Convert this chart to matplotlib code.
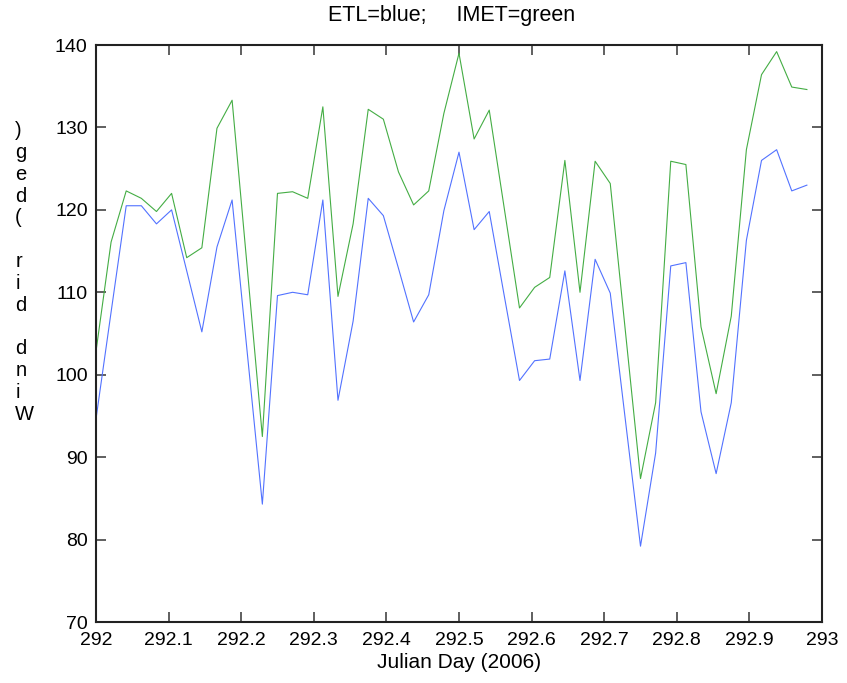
import numpy as np
import matplotlib
matplotlib.use("Agg")
import matplotlib.pyplot as plt

plt.rcParams['font.family'] = ['Liberation Sans', 'DejaVu Sans']

# half-hourly samples on Julian day 292
day0 = 292.0
n_samples = 48
etl = [94.6, 107.6, 120.5, 120.5, 118.3, 120.0, 112.6, 105.2, 115.5, 121.2,
       102.7, 84.3, 109.6, 110.0, 109.7, 121.2, 96.9, 106.5, 121.4, 119.3,
       112.9, 106.4, 109.7, 119.9, 127.0, 117.6, 119.8, 109.5, 99.3, 101.7,
       101.9, 112.6, 99.3, 114.0, 109.9, 94.5, 79.2, 90.5, 113.2, 113.6,
       95.5, 88.0, 96.6, 116.3, 126.0, 127.3, 122.3, 123.0]
imet = [102.8, 116.1, 122.3, 121.4, 119.8, 122.0, 114.2, 115.4, 129.9, 133.3,
        113.0, 92.5, 122.0, 122.2, 121.4, 132.5, 109.5, 118.3, 132.2, 131.0,
        124.6, 120.6, 122.3, 131.7, 139.0, 128.6, 132.1, 120.1, 108.1, 110.6,
        111.8, 126.0, 110.0, 125.9, 123.2, 105.3, 87.4, 96.6, 125.9, 125.5,
        105.8, 97.7, 107.1, 127.3, 136.4, 139.2, 134.9, 134.6]
xticks = [292, 292.1, 292.2, 292.3, 292.4, 292.5, 292.6, 292.7, 292.8, 292.9, 293]
xticklabels = ['292', '292.1', '292.2', '292.3', '292.4', '292.5',
               '292.6', '292.7', '292.8', '292.9', '293']
yticks = [70, 80, 90, 100, 110, 120, 130, 140]

jd = day0 + np.arange(n_samples) / n_samples

fig = plt.figure(figsize=(8.47, 6.83), dpi=100)
ax = fig.add_axes([0.1133, 0.0893, 0.8572, 0.8448])

ax.plot(jd, imet, color='#44ad44', lw=0.8)
ax.plot(jd, etl, color='#5272ff', lw=0.8)

ax.set_xlim(292, 293)
ax.set_ylim(70, 140)
ax.set_xticks(xticks)
ax.set_xticklabels(xticklabels)
ax.set_yticks(yticks)
ax.tick_params(direction='in', top=True, right=True, length=7, width=1.2,
               color='#444444', labelsize=14, pad=6)
ax.tick_params(axis='x', pad=7)
for s in ax.spines.values():
    s.set_linewidth(1.5)
    s.set_color('#222222')

ax.set_title("ETL=blue;     IMET=green", fontsize=15.5, pad=17, x=0.49)
ax.set_xlabel("Julian Day (2006)", fontsize=15, labelpad=3)

# MATLAB-style stacked y label
ylab = "\n".join(reversed("Wind dir (deg)"))
fig.text(0.018, 0.601, ylab, fontsize=14.5, ha='left', va='center',
         linespacing=1.19)

fig.savefig("out.png", dpi=100)
